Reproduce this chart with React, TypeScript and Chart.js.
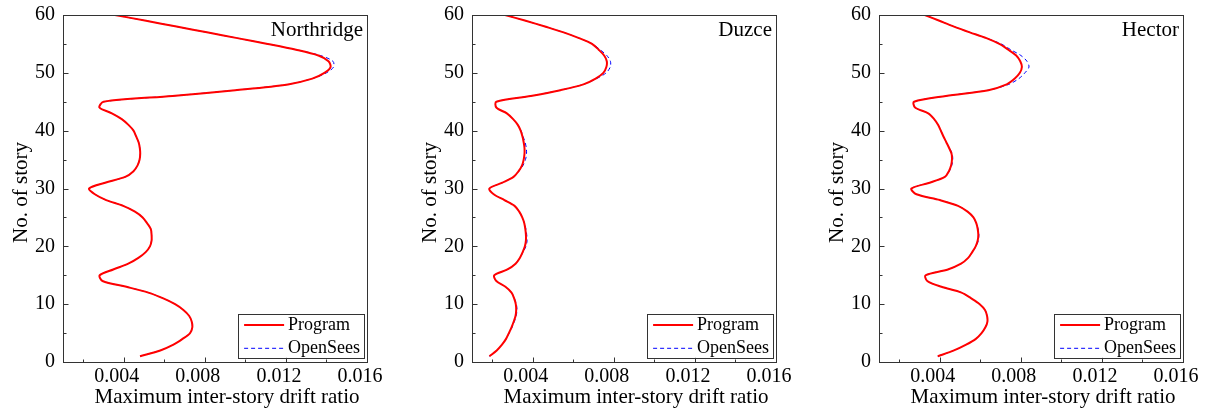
import { useEffect, useRef } from "react";
import { Chart, registerables } from "chart.js";
Chart.register(...registerables);

const stories = [
  1, 2, 3, 4, 5, 6, 7, 8, 9, 10, 11, 12, 13, 14, 15, 16, 17, 18, 19, 20,
  21, 22, 23, 24, 25, 26, 27, 28, 29, 30, 31, 32, 33, 34, 35, 36, 37, 38, 39, 40,
  41, 42, 43, 44, 45, 46, 47, 48, 49, 50, 51, 52, 53, 54, 55, 56, 57, 58, 59, 60,
];

const northridgeProgram = [
  0.0048, 0.0058, 0.00645, 0.0069, 0.00727, 0.00738, 0.00735, 0.00722, 0.00694, 0.00653,
  0.00595, 0.00521, 0.00413, 0.00295, 0.00281, 0.00348, 0.00422, 0.00472, 0.00508, 0.00529,
  0.00537, 0.00537, 0.00533, 0.00515, 0.00493, 0.00455, 0.00397, 0.00313, 0.00257, 0.00229,
  0.00308, 0.00407, 0.00448, 0.00468, 0.00478, 0.00481, 0.00479, 0.00473, 0.00461, 0.00448,
  0.00423, 0.0039, 0.00341, 0.0028, 0.003, 0.0064, 0.0095, 0.0121, 0.0133, 0.0139,
  0.0142, 0.0141, 0.0136, 0.0125, 0.0111, 0.0096, 0.0081, 0.0066, 0.0051, 0.00356,
];
const northridgeOpenSees = [
  0.0048, 0.0058, 0.00645, 0.0069, 0.00727, 0.00738, 0.00735, 0.00722, 0.00694, 0.00653,
  0.00595, 0.00521, 0.00413, 0.00295, 0.00281, 0.00348, 0.00422, 0.00472, 0.00508, 0.00529,
  0.00537, 0.00537, 0.00533, 0.00515, 0.00493, 0.00455, 0.00397, 0.00313, 0.00257, 0.00229,
  0.00308, 0.00407, 0.00448, 0.00468, 0.00478, 0.00481, 0.00479, 0.00473, 0.00461, 0.00448,
  0.00423, 0.0039, 0.00341, 0.0028, 0.003, 0.0064, 0.0095, 0.0121, 0.0133, 0.014,
  0.01435, 0.01432, 0.0137, 0.0125, 0.0111, 0.0096, 0.0081, 0.0066, 0.0051, 0.00356,
];

const duzceProgram = [
  0.00186, 0.00222, 0.00248, 0.00268, 0.00282, 0.00295, 0.00306, 0.00315, 0.00318, 0.00316,
  0.00308, 0.00295, 0.00265, 0.0022, 0.0021, 0.00275, 0.00315, 0.00336, 0.0035, 0.00361,
  0.00366, 0.00366, 0.00363, 0.00358, 0.00348, 0.00333, 0.0031, 0.0026, 0.00207, 0.00186,
  0.0025, 0.00305, 0.0033, 0.00347, 0.00355, 0.00359, 0.00359, 0.00355, 0.00349, 0.0034,
  0.00326, 0.00303, 0.00272, 0.0022, 0.0022, 0.0039, 0.00536, 0.0065, 0.0071, 0.00748,
  0.00763, 0.00765, 0.00752, 0.00725, 0.00692, 0.00628, 0.00552, 0.0046, 0.00365, 0.00263,
];
const duzceOpenSees = [
  0.00186, 0.00222, 0.00248, 0.00268, 0.00284, 0.00298, 0.00309, 0.00318, 0.00322, 0.00319,
  0.00309, 0.00295, 0.00265, 0.0022, 0.0021, 0.00275, 0.00315, 0.00336, 0.00352, 0.00366,
  0.00372, 0.0037, 0.00366, 0.00359, 0.00348, 0.00333, 0.0031, 0.0026, 0.00207, 0.00186,
  0.0025, 0.00305, 0.00332, 0.00352, 0.00364, 0.00369, 0.00368, 0.00362, 0.00352, 0.00342,
  0.00326, 0.00303, 0.00272, 0.0022, 0.0022, 0.0039, 0.00536, 0.0065, 0.00715, 0.00762,
  0.00782, 0.00783, 0.00765, 0.00732, 0.00695, 0.00628, 0.00552, 0.0046, 0.00365, 0.00263,
];

const hectorProgram = [
  0.0039, 0.0047, 0.0053, 0.00578, 0.00606, 0.00625, 0.00635, 0.00633, 0.00623, 0.00597,
  0.00555, 0.00507, 0.00408, 0.00338, 0.0033, 0.0044, 0.00505, 0.0054, 0.0056, 0.00577,
  0.00587, 0.0059, 0.00587, 0.0058, 0.00566, 0.00537, 0.0049, 0.004, 0.00285, 0.0026,
  0.0035, 0.00425, 0.00445, 0.00456, 0.0046, 0.00458, 0.00446, 0.00432, 0.00418, 0.00405,
  0.00392, 0.00372, 0.00343, 0.00278, 0.00273, 0.0043, 0.0064, 0.0073, 0.0077, 0.00795,
  0.00805, 0.00797, 0.00777, 0.00738, 0.00694, 0.0063, 0.00548, 0.0047, 0.00398, 0.00326,
];
const hectorOpenSees = [
  0.0039, 0.0047, 0.0053, 0.00578, 0.00606, 0.00625, 0.00635, 0.00633, 0.00623, 0.00597,
  0.00555, 0.00507, 0.00408, 0.00338, 0.0033, 0.0044, 0.00505, 0.0054, 0.0056, 0.00579,
  0.0059, 0.00593, 0.00589, 0.0058, 0.00566, 0.00537, 0.0049, 0.004, 0.00285, 0.0026,
  0.0035, 0.00425, 0.00447, 0.00459, 0.00464, 0.00461, 0.00448, 0.00432, 0.00418, 0.00405,
  0.00392, 0.00372, 0.00343, 0.00278, 0.00273, 0.0043, 0.0064, 0.0074, 0.0079, 0.0082,
  0.0084, 0.0083, 0.008, 0.0075, 0.00703, 0.0063, 0.00548, 0.0047, 0.00398, 0.00326,
];

const panelNames = ["Northridge", "Duzce", "Hector"];
const programSeries = [northridgeProgram, duzceProgram, hectorProgram];
const openSeesSeries = [northridgeOpenSees, duzceOpenSees, hectorOpenSees];
const seriesLabels = ["Program", "OpenSees"];
const xAxisTitle = "Maximum inter-story drift ratio";
const yAxisTitle = "No. of story";

const FONT = "'Liberation Serif', 'Times New Roman', serif";
const FRAME = "#333333";

const overlayPlugin = {
  id: "overlay",
  afterDraw(chart: any, _args: any, opts: any) {
    const { ctx, chartArea: a, scales } = chart;
    const xs = scales.x;
    const ys = scales.y;
    ctx.save();
    ctx.strokeStyle = FRAME;
    ctx.lineWidth = 1;
    const L = Math.round(a.left) + 0.5;
    const R = Math.round(a.right) + 0.5;
    const T = Math.round(a.top) + 0.5;
    const B = Math.round(a.bottom) + 0.5;
    ctx.strokeRect(L, T, R - L, B - T);
    // inward ticks
    ctx.beginPath();
    ys.ticks.forEach((t: any) => {
      const py = Math.round(ys.getPixelForValue(t.value)) + 0.5;
      const len = Math.round(t.value) % 10 === 0 ? 5 : 3;
      ctx.moveTo(L, py);
      ctx.lineTo(L + len, py);
    });
    xs.ticks.forEach((t: any) => {
      const px = Math.round(xs.getPixelForValue(t.value)) + 0.5;
      const len = Math.round(t.value * 1000) % 4 === 0 ? 5 : 3;
      ctx.moveTo(px, B);
      ctx.lineTo(px, B - len);
    });
    ctx.stroke();

    // panel name
    ctx.fillStyle = "#000";
    ctx.font = `21px ${FONT}`;
    ctx.textAlign = "right";
    ctx.textBaseline = "alphabetic";
    ctx.fillText(opts.name, a.right - 4, a.top + 21);

    // axis titles
    ctx.textAlign = "center";
    ctx.textBaseline = "alphabetic";
    ctx.fillText(xAxisTitle, (a.left + a.right) / 2 + 12, a.bottom + 41);
    ctx.save();
    ctx.translate(a.left - 42, (a.top + a.bottom) / 2 + 4);
    ctx.rotate(-Math.PI / 2);
    ctx.textBaseline = "middle";
    ctx.fillText(yAxisTitle, 0, 0);
    ctx.restore();

    // legend
    const bl = a.right - 129.5;
    const br = a.right - 3.4;
    const bb = a.bottom - 4.3;
    const bt = bb - 43.7;
    ctx.fillStyle = "#fff";
    ctx.fillRect(bl, bt, br - bl, bb - bt);
    ctx.strokeStyle = FRAME;
    ctx.lineWidth = 1;
    ctx.strokeRect(Math.round(bl) + 0.5, Math.round(bt) + 0.5, Math.round(br - bl), Math.round(bb - bt));
    const rows = [11, 34.3];
    chart.data.datasets.forEach((ds: any, i: number) => {
      const y = bt + rows[i];
      ctx.beginPath();
      ctx.strokeStyle = ds.borderColor;
      ctx.lineWidth = ds.borderWidth;
      ctx.setLineDash(ds.borderDash || []);
      ctx.moveTo(bl + 6.6, y);
      ctx.lineTo(bl + 46.6, y);
      ctx.stroke();
      ctx.setLineDash([]);
      ctx.fillStyle = "#000";
      ctx.font = `18px ${FONT}`;
      ctx.textAlign = "left";
      ctx.textBaseline = "middle";
      ctx.fillText(ds.label, bl + 50.6, y);
    });
    ctx.restore();
  },
};

function Panel({ index, left }: { index: number; left: number }) {
  const ref = useRef<HTMLCanvasElement>(null);
  useEffect(() => {
    if (!ref.current) return;
    const program = programSeries[index];
    const opensees = openSeesSeries[index];
    const chart = new Chart(ref.current, {
      type: "line",
      data: {
        datasets: [
          {
            label: seriesLabels[0],
            data: stories.map((s, i) => ({ x: program[i], y: s })),
            borderColor: "#ff0000",
            borderWidth: 2,
            pointRadius: 0,
            fill: false,
            tension: 0.3,
          },
          {
            label: seriesLabels[1],
            data: stories.map((s, i) => ({ x: opensees[i], y: s })),
            borderColor: "#0000ff",
            borderWidth: 1,
            borderDash: [4, 3],
            pointRadius: 0,
            fill: false,
            tension: 0.3,
          },
        ],
      },
      options: {
        animation: false,
        responsive: false,
        indexAxis: "y",
        layout: { padding: { top: 15, right: 30, left: 0, bottom: 0 } },
        plugins: {
          legend: { display: false },
          tooltip: { enabled: false },
          overlay: { name: panelNames[index] },
        } as any,
        scales: {
          x: {
            type: "linear",
            min: 0.001,
            max: 0.016,
            grid: { display: false, drawTicks: false },
            border: { display: false },
            ticks: {
              stepSize: 0.002,
              includeBounds: false,
              autoSkip: false,
              maxRotation: 0,
              labelOffset: -7,
              padding: 3,
              color: "#000",
              font: { family: FONT, size: 20 },
              callback: (v: any) =>
                Math.round(Number(v) * 1000) % 4 === 0 ? Number(v).toFixed(3) : "",
            },
            afterFit: (s: any) => {
              s.height = 52;
              s.paddingLeft = 0;
              s.paddingRight = 0;
            },
          },
          y: {
            type: "linear",
            min: 0,
            max: 60,
            grid: { display: false, drawTicks: false },
            border: { display: false },
            ticks: {
              stepSize: 5,
              autoSkip: false,
              padding: 8,
              color: "#000",
              font: { family: FONT, size: 20 },
              callback: (v: any) => (Math.round(Number(v)) % 10 === 0 ? String(v) : ""),
            },
            afterFit: (s: any) => {
              s.width = 63;
              s.paddingTop = 0;
              s.paddingBottom = 0;
            },
          },
        },
      } as any,
      plugins: [overlayPlugin],
    });
    return () => chart.destroy();
  }, [index]);
  return (
    <canvas
      ref={ref}
      width={397}
      height={414}
      style={{ position: "absolute", left, top: 0, width: 397, height: 414 }}
    />
  );
}

export default function App() {
  return (
    <div
      style={{
        position: "fixed",
        left: 0,
        top: 0,
        width: 1208,
        height: 414,
        overflow: "hidden",
        background: "#fff",
      }}
    >
      <Panel index={0} left={0} />
      <Panel index={1} left={409} />
      <Panel index={2} left={816} />
    </div>
  );
}
